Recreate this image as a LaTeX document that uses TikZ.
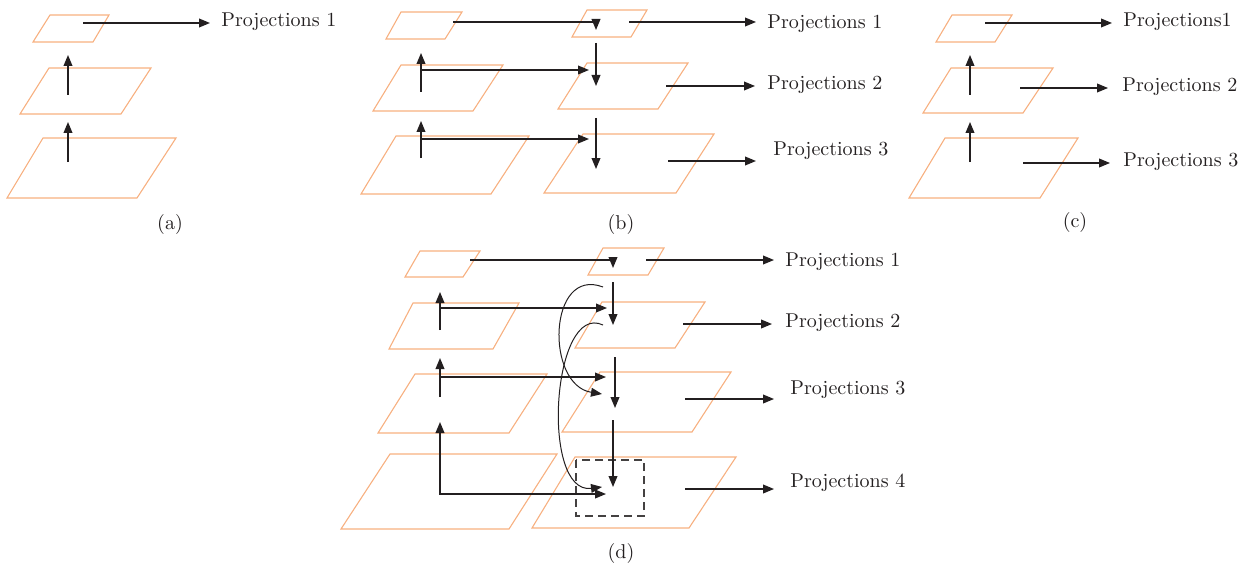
\documentclass[tikz,border=0pt]{standalone}
\usepackage{amsmath, amssymb}
\usepackage{tikz}
\usetikzlibrary{arrows.meta, positioning, calc}
\definecolor{planeOrange}{RGB}{247,176,128}
\definecolor{arrowInk}{RGB}{35,31,32}
\tikzset{
  planeline/.style={draw=planeOrange, line width=0.55pt, line join=miter},
  arr/.style={-{Triangle[length=5.5pt,width=4.4pt]}, line width=0.65pt, draw=arrowInk},
  twoarr/.style={{Triangle[length=5.5pt,width=4.4pt]}-{Triangle[length=5.5pt,width=4.4pt]}, line width=0.65pt, draw=arrowInk},
  bendarr/.style={-{Triangle[length=5.5pt,width=4.4pt]}, line width=0.5pt, draw=arrowInk},
  projlabel/.style={anchor=west, inner sep=0pt, text=arrowInk},
  caplabel/.style={inner sep=0pt, text=arrowInk},
  cropbox/.style={draw=arrowInk!85, line width=0.6pt, dash pattern=on 4pt off 2.5pt}
}

\begin{document}
\begin{tikzpicture}[x=0.5pt, y=-0.5pt]
  \useasboundingbox (0,0) rectangle (1247,567);

  % (a) bottom-up only
  \draw[planeline] (50,15) -- (109,15) -- (93,42) -- (33,42) -- cycle;
  \draw[planeline] (49,68) -- (151,68) -- (121,114) -- (20,114) -- cycle;
  \draw[planeline] (43,138) -- (176,138) -- (137,198) -- (7,198) -- cycle;
  \coordinate (a-up1s) at (68,95);   \coordinate (a-up1e) at (68,55);
  \coordinate (a-up2s) at (68,162);  \coordinate (a-up2e) at (68,122);
  \coordinate (a-p1s) at (83,23);    \coordinate (a-p1e) at (210,23);
  \node[projlabel] (a-lab1) at (221,22) {Projections 1};
  \draw[arr] (a-up1s) -- (a-up1e);
  \draw[arr] (a-up2s) -- (a-up2e);
  \draw[arr] (a-p1s) -- (a-p1e);
  \node[caplabel] (a-cap) at (170,224) {(a)};

  % (b) top-down with lateral links
  \draw[planeline] (401,12) -- (462,12) -- (445,39) -- (386,39) -- cycle;
  \draw[planeline] (401,65) -- (503,65) -- (473,111) -- (373,111) -- cycle;
  \draw[planeline] (396,136) -- (529,136) -- (491,194) -- (361,194) -- cycle;
  \draw[planeline] (587,10) -- (647,10) -- (631,37) -- (572,37) -- cycle;
  \draw[planeline] (587,63) -- (688,63) -- (658,109) -- (558,109) -- cycle;
  \draw[planeline] (583,134) -- (714,134) -- (676,193) -- (544,193) -- cycle;
  \coordinate (b-top) at (453,22);    \coordinate (b-topd) at (596,30);
  \coordinate (b-d1s) at (596,43);    \coordinate (b-d1e) at (596,86);
  \coordinate (b-d2s) at (596,118);   \coordinate (b-d2e) at (596,169);
  \coordinate (b-u1s) at (421,92);    \coordinate (b-u1e) at (421,53);
  \coordinate (b-u2s) at (421,158);   \coordinate (b-u2e) at (421,121);
  \coordinate (b-h1s) at (421,70);    \coordinate (b-h1e) at (589,70);
  \coordinate (b-h2s) at (421,139);   \coordinate (b-h2e) at (589,139);
  \coordinate (b-p1s) at (629,22);    \coordinate (b-p1e) at (756,22);
  \coordinate (b-p2s) at (666,86);    \coordinate (b-p2e) at (755,86);
  \coordinate (b-p3s) at (668,161);   \coordinate (b-p3e) at (756,161);
  \node[projlabel] (b-lab1) at (767,24) {Projections 1};
  \node[projlabel] (b-lab2) at (767,85) {Projections 2};
  \node[projlabel] (b-lab3) at (773,151) {Projections 3};
  \draw[arr] (b-top) -| (b-topd);
  \draw[arr] (b-d1s) -- (b-d1e);
  \draw[arr] (b-d2s) -- (b-d2e);
  \draw[arr] (b-u1s) -- (b-u1e);
  \draw[arr] (b-u2s) -- (b-u2e);
  \draw[arr] (b-h1s) -- (b-h1e);
  \draw[arr] (b-h2s) -- (b-h2e);
  \draw[arr] (b-p1s) -- (b-p1e);
  \draw[arr] (b-p2s) -- (b-p2e);
  \draw[arr] (b-p3s) -- (b-p3e);
  \node[caplabel] (b-cap) at (621,224) {(b)};

  % (c) bottom-up, every level predicts
  \draw[planeline] (952,15) -- (1012,15) -- (995,42) -- (936,42) -- cycle;
  \draw[planeline] (951,68) -- (1053,68) -- (1023,113) -- (923,113) -- cycle;
  \draw[planeline] (945,138) -- (1078,138) -- (1040,198) -- (909,198) -- cycle;
  \coordinate (c-up1s) at (970,95);   \coordinate (c-up1e) at (970,55);
  \coordinate (c-up2s) at (970,162);  \coordinate (c-up2e) at (970,122);
  \coordinate (c-p1s) at (985,23);    \coordinate (c-p1e) at (1112,23);
  \coordinate (c-p2s) at (1020,88);   \coordinate (c-p2e) at (1108,88);
  \coordinate (c-p3s) at (1023,163);  \coordinate (c-p3e) at (1110,163);
  \node[projlabel] (c-lab1) at (1123,22) {Projections1};
  \node[projlabel] (c-lab2) at (1122,87) {Projections 2};
  \node[projlabel] (c-lab3) at (1123,162) {Projections 3};
  \draw[arr] (c-up1s) -- (c-up1e);
  \draw[arr] (c-up2s) -- (c-up2e);
  \draw[arr] (c-p1s) -- (c-p1e);
  \draw[arr] (c-p2s) -- (c-p2e);
  \draw[arr] (c-p3s) -- (c-p3e);
  \node[caplabel] (c-cap) at (1075,222) {(c)};

  % (d) four levels with skip links
  \draw[planeline] (420,251) -- (480,251) -- (463,277) -- (405,277) -- cycle;
  \draw[planeline] (413,303) -- (519,303) -- (493,349) -- (389,349) -- cycle;
  \draw[planeline] (415,374) -- (547,374) -- (509,433) -- (378,433) -- cycle;
  \draw[planeline] (390,454) -- (557,454) -- (509,529) -- (341,529) -- cycle;
  \draw[planeline] (603,248) -- (664,248) -- (648,275) -- (588,275) -- cycle;
  \draw[planeline] (602,302) -- (705,302) -- (675,348) -- (575,348) -- cycle;
  \draw[planeline] (600,372) -- (731,372) -- (692,432) -- (562,432) -- cycle;
  \draw[planeline] (575,457) -- (736,457) -- (689,528) -- (532,528) -- cycle;
  \draw[cropbox] (576,460) rectangle (644,516);
  \coordinate (d-top) at (470,260);   \coordinate (d-topd) at (613,268);
  \coordinate (d-d1s) at (613,282);   \coordinate (d-d1e) at (613,325);
  \coordinate (d-d2s) at (615,357);   \coordinate (d-d2e) at (615,408);
  \coordinate (d-d3s) at (613,420);   \coordinate (d-d3e) at (613,487);
  \coordinate (d-u1s) at (440,330);   \coordinate (d-u1e) at (440,292);
  \coordinate (d-u2s) at (440,397);   \coordinate (d-u2e) at (440,358);
  \coordinate (d-u3e) at (440,422);   \coordinate (d-h3e) at (606,494);
  \coordinate (d-h1s) at (440,308);   \coordinate (d-h1e) at (607,308);
  \coordinate (d-h2s) at (440,377);   \coordinate (d-h2e) at (606,377);
  \coordinate (d-c1s) at (603,287);   \coordinate (d-c1e) at (602,394);
  \coordinate (d-c2s) at (603,325);   \coordinate (d-c2e) at (602,487);
  \coordinate (d-p1s) at (646,260);   \coordinate (d-p1e) at (774,260);
  \coordinate (d-p2s) at (683,324);   \coordinate (d-p2e) at (772,324);
  \coordinate (d-p3s) at (685,399);   \coordinate (d-p3e) at (774,399);
  \coordinate (d-p4s) at (685,489);   \coordinate (d-p4e) at (774,489);
  \node[projlabel] (d-lab1) at (785,262) {Projections 1};
  \node[projlabel] (d-lab2) at (785,323) {Projections 2};
  \node[projlabel] (d-lab3) at (790,390) {Projections 3};
  \node[projlabel] (d-lab4) at (790,483) {Projections 4};
  \draw[arr] (d-top) -| (d-topd);
  \draw[arr] (d-d1s) -- (d-d1e);
  \draw[arr] (d-d2s) -- (d-d2e);
  \draw[arr] (d-d3s) -- (d-d3e);
  \draw[arr] (d-u1s) -- (d-u1e);
  \draw[arr] (d-u2s) -- (d-u2e);
  \draw[twoarr] (d-u3e) |- (d-h3e);
  \draw[arr] (d-h1s) -- (d-h1e);
  \draw[arr] (d-h2s) -- (d-h2e);
  \draw[bendarr] (d-c1s) .. controls (548,266) and (545,385) .. (d-c1e);
  \draw[bendarr] (d-c2s) .. controls (552,301) and (540,495) .. (d-c2e);
  \draw[arr] (d-p1s) -- (d-p1e);
  \draw[arr] (d-p2s) -- (d-p2e);
  \draw[arr] (d-p3s) -- (d-p3e);
  \draw[arr] (d-p4s) -- (d-p4e);
  \node[caplabel] (d-cap) at (621,553) {(d)};
\end{tikzpicture}
\end{document}
